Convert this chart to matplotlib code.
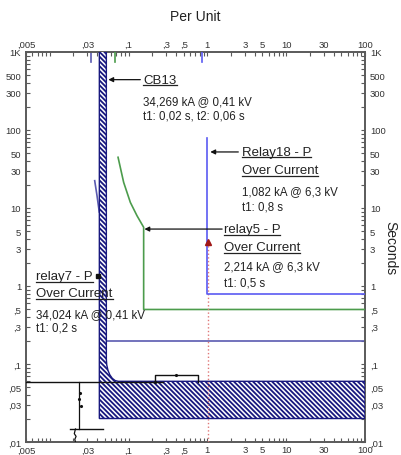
import matplotlib
matplotlib.use('Agg')
import matplotlib.pyplot as plt
from matplotlib.patches import Polygon
from matplotlib.lines import Line2D
from matplotlib.ticker import FixedLocator, NullFormatter

plt.rcParams['font.family'] = ['Liberation Sans', 'DejaVu Sans']
plt.rcParams['hatch.linewidth'] = 1.3

# ---------------- data (per unit / seconds) ----------------
x_major = [0.005, 0.03, 0.1, 0.3, 0.5, 1, 3, 5, 10, 30, 100]
x_labels = [',005', ',03', ',1', ',3', ',5', '1', '3', '5', '10', '30', '100']
y_major = [1000, 500, 300, 100, 50, 30, 10, 5, 3, 1, 0.5, 0.3, 0.1, 0.05, 0.03, 0.01]
y_labels = ['1K', '500', '300', '100', '50', '30', '10', '5', '3', '1', ',5', ',3', ',1', ',05', ',03', ',01']

# CB13 band outline
cb13_x = [0.0523, 0.0523, 0.05293, 0.0548, 0.0579, 0.0622, 0.0676, 0.074, 100, 100, 0.0426, 0.0426]
cb13_y = [3000, 0.115, 0.0972, 0.0831, 0.0726, 0.0655, 0.0613, 0.06, 0.06, 0.02, 0.02, 3000]

# relay7 (blue-grey)
r7_top_x = [0.0334, 0.0334]
r7_top_y = [3000, 740]
r7_curve_x = [0.0372, 0.0398, 0.0425]
r7_curve_y = [22.4, 14.4, 8.9]
r7_def_x = [0.0523, 100]
r7_def_y = [0.2, 0.2]

# relay5 (green)
r5_top_x = [0.068, 0.068]
r5_top_y = [3000, 740]
r5_x = [0.0736, 0.0867, 0.1054, 0.128, 0.1555, 0.1555, 100]
r5_y = [44.7, 21.3, 11.8, 7.96, 5.66, 0.5, 0.5]

# Relay18 (blue)
r18_top_x = [0.86, 0.86]
r18_top_y = [3000, 740]
r18_x = [0.99, 0.99, 100]
r18_y = [79, 0.8, 0.8]

# red reference line (1 pu)
red_x = [1.005, 1.005]
red_y = [3.67, 0.01]

# black device
blk1_x = [0.005, 0.274]
blk1_y = [0.058, 0.058]
blk_rect_x = [0.219, 0.219, 0.762, 0.762]
blk_rect_y = [0.058, 0.072, 0.072, 0.058]
blk_v_x = [0.0238, 0.0238]
blk_v_y = [0.058, 0.0147]
blk_h_x = [0.0183, 0.0474]
blk_h_y = [0.0147, 0.0147]
blk_sq_x = [0.0212, 0.0205, 0.0216, 0.0208, 0.0212]
blk_sq_y = [0.0147, 0.0128, 0.0118, 0.0108, 0.0100]
blk_dot_x = [0.0245, 0.0238, 0.0252, 0.404, 0.219]
blk_dot_y = [0.0427, 0.0352, 0.0287, 0.072, 0.058]

# annotation arrows: (tail_x, tail_y, head_x, head_y)
arrows = [
    (0.141, 442, 0.0554, 442),     # CB13
    (2.47, 52.3, 1.09, 52.3),      # Relay18
    (1.54, 5.37, 0.159, 5.37),     # relay5
]

# labels: (x, y, text, underline, size)
labels = [
    (0.154, 438, 'CB13', True, 9.5),
    (0.154, 238, '34,269 kA @ 0,41 kV', False, 8.3),
    (0.154, 152, 't1: 0,02 s, t2: 0,06 s', False, 8.3),
    (2.76, 52.3, 'Relay18 - P', True, 9.5),
    (2.76, 30.7, 'Over Current', True, 9.5),
    (2.76, 16.5, '1,082 kA @ 6,3 kV', False, 8.3),
    (2.76, 10.6, 't1: 0,8 s', False, 8.3),
    (1.61, 5.37, 'relay5 - P', True, 9.5),
    (1.61, 3.16, 'Over Current', True, 9.5),
    (1.61, 1.80, '2,214 kA @ 6,3 kV', False, 8.3),
    (1.61, 1.12, 't1: 0,5 s', False, 8.3),
    (0.00676, 1.34, 'relay7 - P', True, 9.5),
    (0.00676, 0.81, 'Over Current', True, 9.5),
    (0.00676, 0.438, '34,024 kA @ 0,41 kV', False, 8.3),
    (0.00676, 0.29, 't1: 0,2 s', False, 8.3),
]

# ---------------- figure ----------------
W, H = 401, 456
fig = plt.figure(figsize=(W / 100, H / 100), dpi=100)
ax = fig.add_axes([26 / W, 13 / H, (365 - 26) / W, (443 - 53) / H])
ax.set_xscale('log')
ax.set_yscale('log')
ax.set_xlim(0.005, 100)
ax.set_ylim(0.01, 1000)

navy = '#18187f'
c_r7 = '#5a5ab0'
c_r5 = '#4c9c4c'
c_r18 = '#5a5af2'

# lines under band
ax.plot(r7_top_x, r7_top_y, color=c_r7, lw=1.2, zorder=2)
ax.plot(r7_curve_x, r7_curve_y, color=c_r7, lw=1.2, zorder=2)
ax.plot(r7_def_x, r7_def_y, color=c_r7, lw=1.2, zorder=2)

band = Polygon(list(zip(cb13_x, cb13_y)), closed=True, facecolor='white',
               edgecolor=navy, hatch='\\' * 7, lw=1.0, zorder=3)
ax.add_patch(band)

ax.plot(r5_top_x, r5_top_y, color=c_r5, lw=1.2, zorder=4)
ax.plot(r5_x, r5_y, color=c_r5, lw=1.2, zorder=4)
ax.plot(red_x, red_y, color='#e07878', lw=1.0, ls=':', zorder=4)
ax.plot(r18_top_x, r18_top_y, color=c_r18, lw=1.2, zorder=4)
ax.plot(r18_x, r18_y, color=c_r18, lw=1.2, zorder=5)
ax.plot([red_x[0]], [red_y[0]], marker='^', color='#a01818', ms=4, zorder=6)

k = '#111111'
ax.plot(blk1_x, blk1_y, color=k, lw=1.0, zorder=6)
ax.plot(blk_rect_x, blk_rect_y, color=k, lw=1.0, zorder=6)
ax.plot(blk_v_x, blk_v_y, color=k, lw=0.9, zorder=6)
ax.plot(blk_h_x, blk_h_y, color=k, lw=1.0, zorder=6)
ax.plot(blk_sq_x, blk_sq_y, color=k, lw=0.9, zorder=6)
ax.plot(blk_dot_x, blk_dot_y, ls='none', marker='.', color=k, ms=2.5, zorder=6)
ax.plot([0.0414], [1.34], ls='none', marker='s', color=k, ms=3, zorder=7)

for tx, ty, hx, hy in arrows:
    ax.annotate('', xy=(hx, hy), xytext=(tx, ty),
                arrowprops=dict(arrowstyle='-|>', color=k, lw=0.9,
                                mutation_scale=7, shrinkA=0, shrinkB=0),
                zorder=7)

texts = []
for x, y, s, ul, fs in labels:
    t = ax.text(x, y, s, fontsize=fs, color='#222222', ha='left', va='center', zorder=8)
    texts.append((t, ul))

# ---------------- axes styling ----------------
for sp in ax.spines.values():
    sp.set_color('#5a5a5a')
    sp.set_linewidth(1.4)

xminor = [m * 10.0 ** d for d in range(-3, 3) for m in range(1, 10)]
xminor = [v for v in xminor if 0.005 <= v <= 100 and all(abs(v - M) / M > 1e-6 for M in x_major)]
yminor = [m * 10.0 ** d for d in range(-2, 4) for m in range(1, 10)]
yminor = [v for v in yminor if 0.01 <= v <= 1000 and all(abs(v - M) / M > 1e-6 for M in y_major)]

ax.xaxis.set_major_locator(FixedLocator(x_major))
ax.xaxis.set_minor_locator(FixedLocator(xminor))
ax.set_xticklabels(x_labels)
ax.xaxis.set_minor_formatter(NullFormatter())
ax.yaxis.set_major_locator(FixedLocator(y_major))
ax.yaxis.set_minor_locator(FixedLocator(yminor))
ax.set_yticklabels(y_labels)
ax.yaxis.set_minor_formatter(NullFormatter())

ax.tick_params(which='both', direction='in', top=True, right=True,
               labeltop=True, labelright=True, length=3, width=0.8,
               color='#5a5a5a', labelsize=6.8, labelcolor='#333333')
ax.tick_params(axis='x', which='both', pad=2.5)
ax.tick_params(axis='y', which='both', pad=3.5)

fig.text(195 / W, 1 - 17 / H, 'Per Unit', fontsize=10, color='#222222', ha='center', va='center')
fig.text(390 / W, 1 - 248 / H, 'Seconds', fontsize=10, color='#222222', ha='center', va='center',
         rotation=270)

# underlines
fig.canvas.draw()
r = fig.canvas.get_renderer()
for t, ul in texts:
    if not ul:
        continue
    bb = t.get_window_extent(renderer=r)
    yy = (bb.y0 + 0.5) / fig.bbox.height
    fig.add_artist(Line2D([bb.x0 / fig.bbox.width, bb.x1 / fig.bbox.width], [yy, yy],
                          color='#222222', lw=0.9))

fig.savefig('out.png', dpi=100)
